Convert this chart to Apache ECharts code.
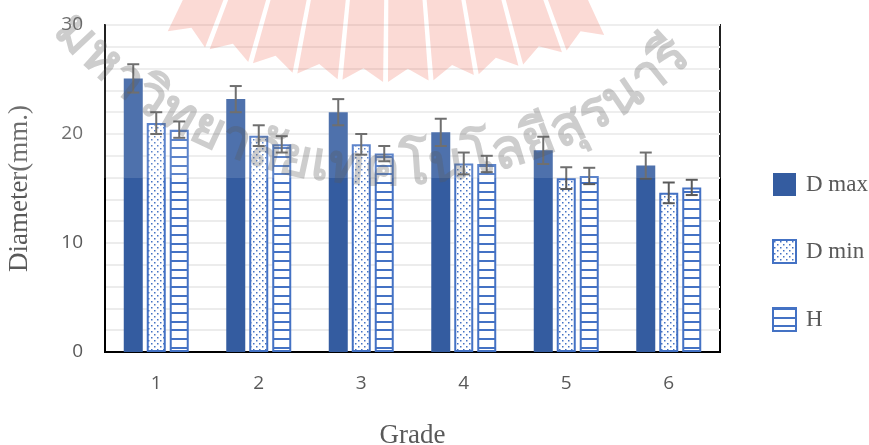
<!DOCTYPE html>
<html>
<head>
<meta charset="utf-8">
<script src="https://cdn.jsdelivr.net/npm/echarts@6/dist/echarts.min.js"></script>
<style>
  html, body { margin: 0; padding: 0; background: #fff; }
  #chart { width: 869px; height: 445px; }
</style>
</head>
<body>
<div id="chart"></div>
<script>
// Mean diameters (mm) per grade with standard deviations
const grades   = ['1', '2', '3', '4', '5', '6'];
const dMax     = [25.1, 23.2, 22.0, 20.15, 18.5, 17.1];
const dMaxErr  = [1.3, 1.2, 1.2, 1.25, 1.25, 1.2];
const dMin     = [21.0, 19.85, 19.05, 17.3, 15.95, 14.6];
const dMinErr  = [1.0, 0.95, 0.95, 1.0, 1.0, 0.95];
const hVal     = [20.4, 19.05, 18.2, 17.25, 16.15, 15.1];
const hErr     = [0.75, 0.75, 0.7, 0.75, 0.75, 0.7];
const yTicks   = [0, 10, 20, 30];
const seriesNames = ['D max', 'D min', 'H'];
const watermarkText = 'มหาวิทยาลัยเทคโนโลยีสุรนารี';

const BLUE = '#4472c4';
const BAR_W = 19;
const BAR_STEP = 23;   // bar width + gap between bars of one group

// fill tiles for the patterned bars
function dotTile() {
  const c = document.createElement('canvas');
  c.width = 6; c.height = 6;
  const g = c.getContext('2d');
  g.fillStyle = '#fff'; g.fillRect(0, 0, 6, 6);
  g.fillStyle = BLUE;
  g.fillRect(1, 1, 1.5, 1.5);
  g.fillRect(4, 4, 1.5, 1.5);
  return c;
}
function lineTile() {
  const c = document.createElement('canvas');
  c.width = 4; c.height = 26;
  const g = c.getContext('2d');
  g.fillStyle = '#fff'; g.fillRect(0, 0, 4, 26);
  g.fillStyle = BLUE;
  g.fillRect(0, 0, 4, 2);
  g.fillRect(0, 9, 4, 2);
  g.fillRect(0, 17, 4, 2);
  return c;
}

function errorBars(vals, errs, slot) {
  return {
    type: 'custom',
    silent: true,
    z: 5,
    encode: { x: 0, y: [1, 2] },
    data: vals.map((v, i) => [i, v - errs[i], v + errs[i]]),
    renderItem(params, api) {
      const lo = api.coord([api.value(0), api.value(1)]);
      const hi = api.coord([api.value(0), api.value(2)]);
      const x = lo[0] + slot * BAR_STEP;
      const cap = 6;
      const st = { stroke: '#5a5a5a', lineWidth: 2 };
      return {
        type: 'group',
        children: [
          { type: 'line', shape: { x1: x, y1: hi[1], x2: x, y2: lo[1] }, style: st },
          { type: 'line', shape: { x1: x - cap, y1: hi[1], x2: x + cap, y2: hi[1] }, style: st },
          { type: 'line', shape: { x1: x - cap, y1: lo[1], x2: x + cap, y2: lo[1] }, style: st }
        ]
      };
    }
  };
}

// faint university watermark: rays of the emblem and the arched name
function watermark() {
  const els = [];
  // translucent white band across the upper part of the plot
  els.push({ type: 'rect', z: 40, silent: true,
    shape: { x: 0, y: 0, width: 740, height: 178 },
    style: { fill: 'rgba(255,255,255,0.13)' } });

  // emblem rays
  const cx = 390, cy = -430, rIn = 380, rOut = 512, notch = 13;
  const a0 = -26, step = 5.1, n = 10, gap = 0.55;
  const P = (deg, r) => {
    const a = deg * Math.PI / 180;
    return [cx + r * Math.sin(a), cy + r * Math.cos(a)];
  };
  for (let k = 0; k < n; k++) {
    const s = a0 + k * step + gap / 2;
    const e = a0 + (k + 1) * step - gap / 2;
    const m = (s + e) / 2;
    els.push({ type: 'polygon', z: 41, silent: true,
      shape: { points: [P(s, rIn), P(e, rIn), P(e, rOut), P(m, rOut - notch), P(s, rOut)] },
      style: { fill: 'rgba(236,70,45,0.2)' } });
  }

  // arched name
  const font = 'bold 54px sans-serif';
  const meas = document.createElement('canvas').getContext('2d');
  meas.font = font;
  const clusters = [];
  for (const ch of watermarkText) {
    const code = ch.charCodeAt(0);
    const combining = code === 0x0E31 || (code >= 0x0E34 && code <= 0x0E3A) || (code >= 0x0E47 && code <= 0x0E4E);
    if (combining && clusters.length) clusters[clusters.length - 1] += ch;
    else clusters.push(ch);
  }
  const widths = clusters.map(c => meas.measureText(c).width);
  const total = widths.reduce((a, b) => a + b, 0);
  const tcx = 385, tcy = -253, R = 423;
  const span = 94 * Math.PI / 180 * R;   // arc length covered by the name
  const extra = (span - total) / (clusters.length - 1);
  let s = -span / 2 - widths[0] / 2;
  clusters.forEach((c, i) => {
    const pos = s + widths[i] / 2;
    const phi = pos / R;
    els.push({ type: 'text', z: 42, silent: true,
      x: tcx + R * Math.sin(phi), y: tcy + R * Math.cos(phi), rotation: phi,
      style: { text: c, font: font, fill: 'rgba(90,90,90,0.3)', align: 'center', verticalAlign: 'middle' } });
    s += widths[i] + extra;
  });
  return els;
}

const chart = echarts.init(document.getElementById('chart'), null, { renderer: 'canvas' });

chart.setOption({
  animation: false,
  backgroundColor: '#fff',
  grid: {
    left: 105, right: 149, top: 25, bottom: 93,
    outerBoundsMode: 'none', containLabel: false,
    show: true, borderColor: '#000', borderWidth: 2
  },
  legend: {
    orient: 'vertical', left: 767, top: 168,
    itemWidth: 23, itemHeight: 23, itemGap: 43,
    icon: 'rect',
    data: seriesNames,
    textStyle: { fontFamily: 'Liberation Serif', fontSize: 23, color: '#595959', padding: [0, 0, 0, 5] }
  },
  xAxis: {
    type: 'category',
    data: grades,
    axisTick: { show: false },
    axisLine: { lineStyle: { color: '#000', width: 2 } },
    axisLabel: { color: '#595959', fontSize: 19, fontFamily: 'Open Sans', margin: 22 },
    name: 'Grade',
    nameLocation: 'middle',
    nameGap: 70,
    nameTextStyle: { fontFamily: 'Liberation Serif', fontSize: 27, color: '#595959' }
  },
  yAxis: {
    type: 'value',
    min: yTicks[0],
    max: yTicks[yTicks.length - 1],
    interval: yTicks[1] - yTicks[0],
    axisLine: { show: true, lineStyle: { color: '#000', width: 2 } },
    axisTick: { show: false },
    axisLabel: { color: '#595959', fontSize: 19, fontFamily: 'Open Sans', margin: 22 },
    splitLine: { show: true, lineStyle: { color: '#ececec', width: 2 } },
    minorTick: { show: false, splitNumber: 5 },
    minorSplitLine: { show: true, lineStyle: { color: '#ececec', width: 2 } },
    name: 'Diameter(mm.)',
    nameLocation: 'middle',
    nameGap: 72,
    nameRotate: 90,
    nameTextStyle: { fontFamily: 'Liberation Serif', fontSize: 27, color: '#595959' }
  },
  series: [
    { name: seriesNames[0], type: 'bar', data: dMax, barWidth: BAR_W, barGap: '21%',
      itemStyle: { color: '#345ca0' } },
    { name: seriesNames[1], type: 'bar', data: dMin, barWidth: BAR_W, barGap: '21%',
      itemStyle: { color: { image: dotTile(), repeat: 'repeat' }, borderColor: BLUE, borderWidth: 2 } },
    { name: seriesNames[2], type: 'bar', data: hVal, barWidth: BAR_W, barGap: '21%',
      itemStyle: { color: { image: lineTile(), repeat: 'repeat' }, borderColor: BLUE, borderWidth: 2 } },
    errorBars(dMax, dMaxErr, -1),
    errorBars(dMin, dMinErr, 0),
    errorBars(hVal, hErr, 1)
  ],
  graphic: { elements: watermark() }
});
</script>
</body>
</html>
